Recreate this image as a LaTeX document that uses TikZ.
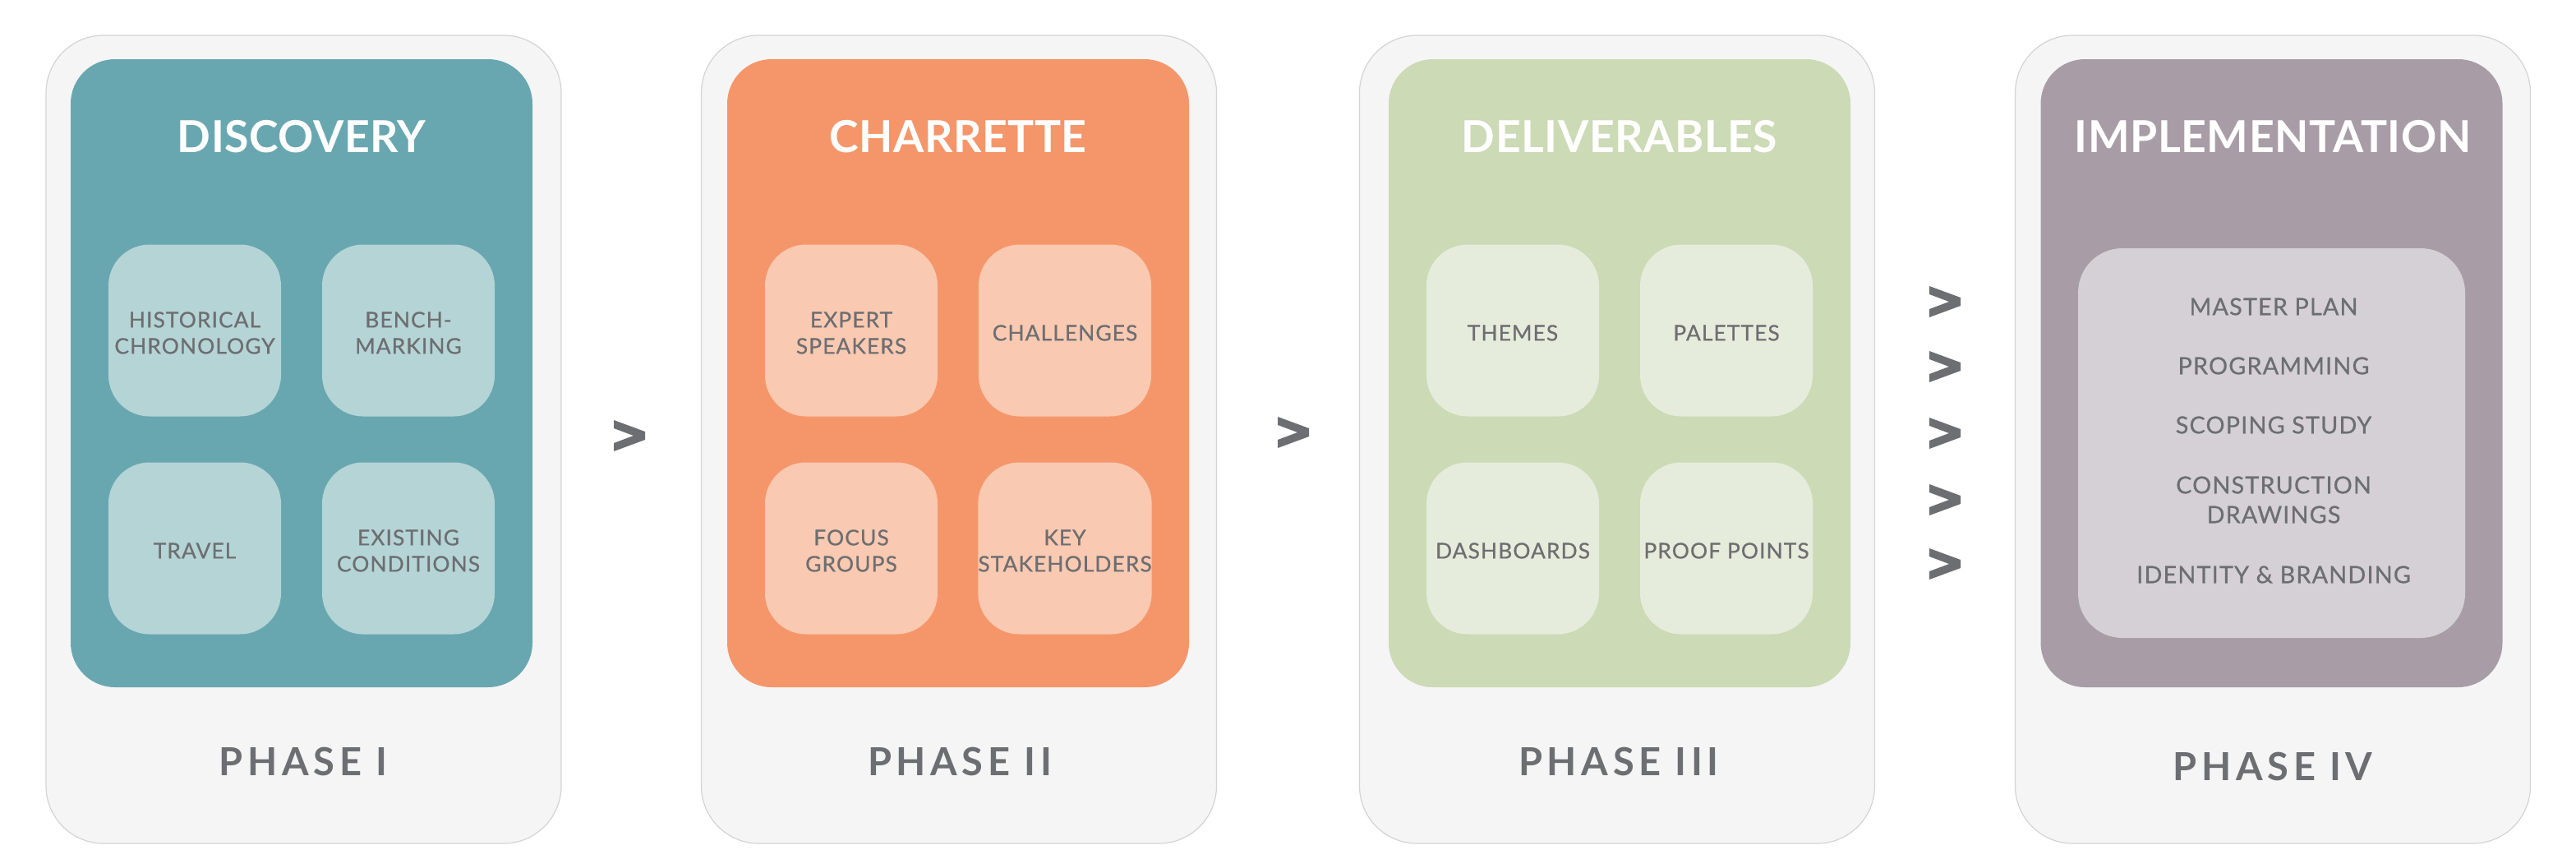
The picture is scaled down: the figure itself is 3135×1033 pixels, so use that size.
\documentclass[tikz,border=0pt]{standalone}
\usepackage{fontspec}
\setmainfont{Lato}
\newfontfamily\titlef{Lato}[LetterSpace=1]
\newfontfamily\phasef{Lato}[LetterSpace=12]
\newfontfamily\tilef{Lato}[LetterSpace=4,FakeBold=0.6]
\definecolor{cardbg}{HTML}{F5F5F5}
\definecolor{cardline}{HTML}{D4D4D4}
\definecolor{txtgray}{HTML}{6D6E71}
\definecolor{tealA}{HTML}{69A7B0}
\definecolor{tealB}{HTML}{B5D4D6}
\definecolor{orA}{HTML}{F5966A}
\definecolor{orB}{HTML}{F9C9B1}
\definecolor{grA}{HTML}{CCDAB5}
\definecolor{grB}{HTML}{E5ECDB}
\definecolor{puA}{HTML}{A89DA6}
\definecolor{puB}{HTML}{D4D0D6}
\newcommand{\tiletext}[1]{\raisebox{0pt}[\dimexpr\height+6pt\relax][\depth]{\begin{tabular}{@{}c@{}}#1\end{tabular}}}
\tikzset{
  card/.style={draw=cardline, fill=cardbg, line width=0.6pt, rounded corners=35pt,
    minimum width=313.5pt, minimum height=491.5pt, inner sep=0pt},
  panel/.style={rounded corners=27pt, minimum width=281pt, minimum height=382pt, inner sep=0pt},
  tile/.style={rounded corners=25pt, minimum width=105pt, minimum height=104.5pt,
    inner sep=0pt, text=txtgray, align=center, font=\tilef\fontsize{13.2}{16}\selectfont},
  listbox/.style={rounded corners=27pt, minimum width=235.5pt, minimum height=237pt, inner sep=0pt},
  listtxt/.style={text=txtgray, align=center, inner sep=0pt, font=\tilef\fontsize{14.4}{18}\selectfont},
  ttl/.style={text=white, inner sep=0pt, font=\titlef\bfseries\fontsize{26.8}{30}\selectfont},
  phase/.style={text=txtgray, inner sep=0pt, font=\phasef\bfseries\fontsize{23.5}{26}\selectfont},
  chev/.pic={\fill[txtgray] (-19,-19) -- (19,-5) -- (19,5) -- (-19,19) -- (-19,9) -- (5,0) -- (-19,-9) -- cycle;}
}
\begin{document}
\begin{tikzpicture}[x=0.5pt,y=-0.5pt]
\useasboundingbox (0,0) rectangle (3135,1033);
% ---------- Phase I
\node[card] (c1) at (369.5,534.5) {};
\node[panel, fill=tealA] (p1) at (367,454) {};
\node[ttl] (t1) at (367,166) {DISCOVERY};
\node[tile, fill=tealB] (a1) at (237,402) {\tiletext{HISTORICAL\\CHRONOLOGY}};
\node[tile, fill=tealB] (a2) at (497,402) {\tiletext{BENCH-\\MARKING}};
\node[tile, fill=tealB] (a3) at (237,667) {\tiletext{TRAVEL}};
\node[tile, fill=tealB] (a4) at (497,667) {\tiletext{EXISTING\\CONDITIONS}};
\node[phase] (ph1) at (369,926) {PHASE I};
% ---------- Phase II
\node[card] (c2) at (1167,534.5) {};
\node[panel, fill=orA] (p2) at (1166,454) {};
\node[ttl] (t2) at (1166,166) {CHARRETTE};
\node[tile, fill=orB] (b1) at (1036,402) {\tiletext{EXPERT\\SPEAKERS}};
\node[tile, fill=orB] (b2) at (1296,402) {\tiletext{CHALLENGES}};
\node[tile, fill=orB] (b3) at (1036,667) {\tiletext{FOCUS\\GROUPS}};
\node[tile, fill=orB] (b4) at (1296,667) {\tiletext{KEY\\STAKEHOLDERS}};
\node[phase] (ph2) at (1168,926) {PHASE II};
% ---------- Phase III
\node[card] (c3) at (1968,534.5) {};
\node[panel, fill=grA] (p3) at (1971,454) {};
\node[ttl] (t3) at (1971,166) {DELIVERABLES};
\node[tile, fill=grB] (d1) at (1841,402) {\tiletext{THEMES}};
\node[tile, fill=grB] (d2) at (2101,402) {\tiletext{PALETTES}};
\node[tile, fill=grB] (d3) at (1841,667) {\tiletext{DASHBOARDS}};
\node[tile, fill=grB] (d4) at (2101,667) {\tiletext{PROOF POINTS}};
\node[phase] (ph3) at (1970,926) {PHASE III};
% ---------- Phase IV
\node[card] (c4) at (2766,534.5) {};
\node[panel, fill=puA] (p4) at (2764.5,454) {};
\node[ttl] (t4) at (2766,166) {IMPLEMENTATION};
\node[listbox, fill=puB] (l4) at (2764.5,539) {};
\node[listtxt] (m1) at (2767,373) {MASTER PLAN};
\node[listtxt] (m2) at (2767,445) {PROGRAMMING};
\node[listtxt] (m3) at (2767,517) {SCOPING STUDY};
\node[listtxt] (m4) at (2767,608) {CONSTRUCTION\\DRAWINGS};
\node[listtxt] (m5) at (2767,699) {IDENTITY \& BRANDING};
\node[phase] (ph4) at (2766,932) {PHASE IV};
% ---------- chevrons
\pic at (766,530) {chev};
\pic at (1574,526) {chev};
\pic at (2367,367) {chev};
\pic at (2367,446) {chev};
\pic at (2367,527) {chev};
\pic at (2367,608) {chev};
\pic at (2367,686) {chev};
\end{tikzpicture}
\end{document}
